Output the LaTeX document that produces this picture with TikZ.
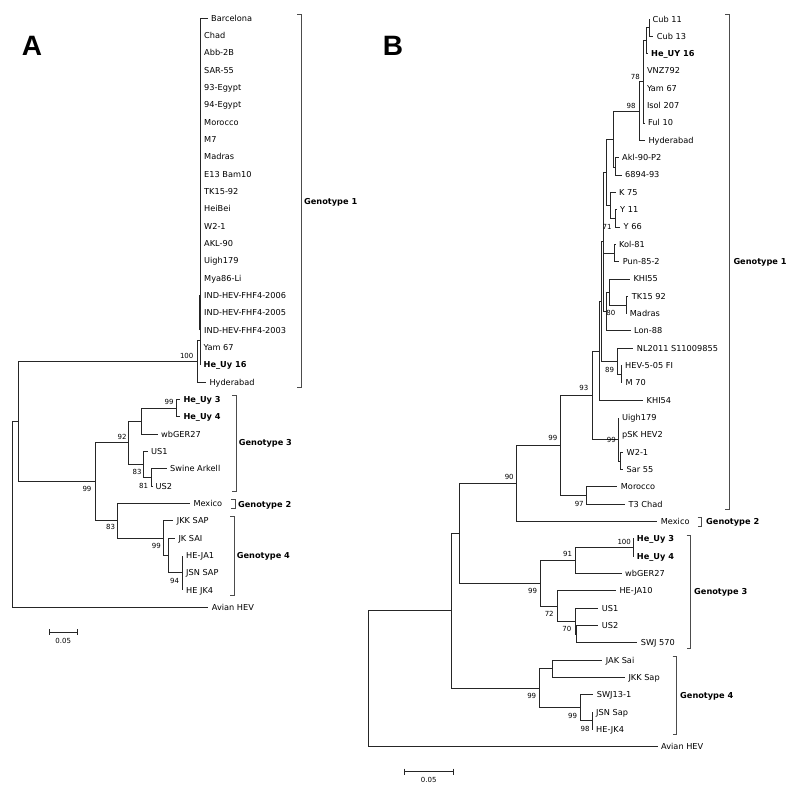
\documentclass[tikz,border=0pt]{standalone}
\usepackage{fontspec}
\setmainfont{DejaVu Sans}
\newfontfamily\panelfont{Liberation Sans}
\newcommand{\rowa}[1]{18+17.34*#1}
\newcommand{\rowb}[1]{19+17.33*#1}
\begin{document}
\begin{tikzpicture}[x=1pt, y=-1pt,
  branch/.style={draw=black!85, line width=0.9pt},
  tip/.style={anchor=west, inner xsep=3.5pt, inner ysep=0pt, text height=6pt, text depth=0pt, font=\fontsize{8.2}{9}\selectfont, text=black},
  ours/.style={tip, font=\fontsize{8.2}{9}\selectfont\bfseries},
  boot/.style={inner sep=0pt, text height=5.1pt, text depth=0pt, font=\fontsize{7}{8}\selectfont, text=black},
  clade/.style={draw=black!70, line width=0.9pt},
  cladename/.style={anchor=west, inner sep=0pt, text height=6pt, text depth=0pt, font=\fontsize{8.2}{9}\selectfont\bfseries, text=black},
  panel/.style={anchor=base, inner sep=0pt, font=\panelfont\fontsize{28}{30}\selectfont\bfseries}]

\useasboundingbox (0,0) rectangle (800,795);

% ---------------- panel A ----------------
\node[panel] (pA) at (32,55) {A};

\coordinate (a1) at (200,340);
\coordinate (a100) at (197,361.5);
\coordinate (a99h) at (176,408.2);
\coordinate (aW) at (141.7,421.2);
\coordinate (a81) at (151.7,477.5);
\coordinate (a83u) at (143.7,464.5);
\coordinate (a92) at (128.3,442.9);
\coordinate (a94) at (182.5,572.9);
\coordinate (aJK) at (168.3,555.5);
\coordinate (a99g) at (163.3,538.2);
\coordinate (a83) at (117,520.9);
\coordinate (a99) at (95,481.9);
\coordinate (aI) at (18.3,421.7);
\coordinate (aR) at (12.7,514.6);

\node[tip] (aBar) at (207.5,{\rowa{0}}) {Barcelona};
\draw[branch] (a1) |- (aBar.west);
\foreach \tname [count=\i] in {Chad, Abb-2B, SAR-55, 93-Egypt, 94-Egypt, Morocco, M7, Madras, E13 Bam10, TK15-92, HeiBei, W2-1, AKL-90, Uigh179, Mya86-Li, IND-HEV-FHF4-2006, IND-HEV-FHF4-2005, IND-HEV-FHF4-2003}{
  \node[tip] (ga\i) at (200.5,{\rowa{\i}}) {\tname};
  \draw[branch] (a1) |- (ga\i.west);
}
\node[tip] (aYam) at (200,{\rowa{19}}) {Yam 67};
\node[ours] (aUy16) at (200,{\rowa{20}}) {He\_Uy 16};
\node[tip] (aHyd) at (205.8,{\rowa{21}}) {Hyderabad};
\node[ours] (aUy3) at (179.8,{\rowa{22}}) {He\_Uy 3};
\node[ours] (aUy4) at (179.8,{\rowa{23}}) {He\_Uy 4};
\node[tip] (aGER) at (157.5,{\rowa{24}}) {wbGER27};
\node[tip] (aUS1) at (147.5,{\rowa{25}}) {US1};
\node[tip] (aArk) at (166.5,{\rowa{26}}) {Swine Arkell};
\node[tip] (aUS2) at (152,{\rowa{27}}) {US2};
\node[tip] (aMex) at (189.8,{\rowa{28}}) {Mexico};
\node[tip] (aJKK) at (173.2,{\rowa{29}}) {JKK SAP};
\node[tip] (aJKS) at (174.8,{\rowa{30}}) {JK SAI};
\node[tip] (aJA1) at (182.5,{\rowa{31}}) {HE-JA1};
\node[tip] (aJSN) at (182.5,{\rowa{32}}) {JSN SAP};
\node[tip] (aJK4) at (182.5,{\rowa{33}}) {HE JK4};
\node[tip] (aAvi) at (208.2,{\rowa{34}}) {Avian HEV};

\foreach \p/\c in {a1/aYam.west, a1/aUy16.west, a100/a1, a100/aHyd.west,
    a99h/aUy3.west, a99h/aUy4.west, aW/a99h, aW/aGER.west,
    a81/aArk.west, a81/aUS2.west, a83u/aUS1.west, a83u/a81, a92/aW, a92/a83u,
    a94/aJA1.west, a94/aJSN.west, a94/aJK4.west, aJK/aJKS.west, aJK/a94,
    a99g/aJKK.west, a99g/aJK, a83/aMex.west, a83/a99g, a99/a92, a99/a83,
    aI/a100, aI/a99, aR/aI, aR/aAvi.west}
  \draw[branch] (\p) |- (\c);
% the stacked short branches of genotype 1
\draw[branch, line width=1.6pt] (a1) ++(0,-10) -- ++(0,-35);

% bootstrap values
\foreach \bx/\by/\bv [count=\k] in {186.7/356/100, 169/402.3/99, 122/436.7/92, 137/472.3/83, 143.5/486/81, 87/489.3/99, 110.5/526.7/83, 156.3/546/99, 174.5/580.7/94}
  \node[boot] (bsA\k) at (\bx,\by) {\bv};

% genotype brackets
\foreach \bx/\bt/\bb in {301/14/387, 236/395.7/491, 235.3/499/508.7, 234.3/516.7/595}
  \draw[clade] ({\bx-4},\bt) -- (\bx,\bt) -- (\bx,\bb) -- ({\bx-4},\bb);
\node[cladename] (gA1) at (304,201) {Genotype 1};
\node[cladename] (gA3) at (238.7,442.7) {Genotype 3};
\node[cladename] (gA2) at (238,504) {Genotype 2};
\node[cladename] (gA4) at (236.7,555.7) {Genotype 4};

% scale bar
\draw[branch] (49,629.3) -- (49,635.3) (49,632.3) -- (77.3,632.3) (77.3,629.3) -- (77.3,635.3);
\node[boot, anchor=north] (sbA) at (63.2,638) {0.05};

% ---------------- panel B ----------------
\node[panel] (pB) at (393,55) {B};

\coordinate (bc1) at (649,27.7);
\coordinate (bc2) at (646.5,40.7);
\coordinate (b78) at (643.3,81.9);
\coordinate (b98) at (639.3,111.1);
\coordinate (bAkl) at (615.5,167);
\coordinate (bA) at (613.3,139.1);
\coordinate (bY) at (615,218.3);
\coordinate (b71) at (610,205.3);
\coordinate (bK) at (606.7,172.2);
\coordinate (bKP) at (614,253);
\coordinate (bTM) at (626,305);
\coordinate (b80) at (609.3,292);
\coordinate (bLo) at (606.7,311.5);
\coordinate (bM) at (603.3,241.9);
\coordinate (bHM) at (621,374.3);
\coordinate (b89) at (617.3,361.3);
\coordinate (bU) at (601.3,301.6);
\coordinate (bN) at (599.3,351);
\coordinate (bWS) at (620,461);
\coordinate (b99u) at (618.5,439);
\coordinate (b93) at (592.7,395);
\coordinate (b97) at (586.7,495.6);
\coordinate (b99m) at (560.7,445.3);
\coordinate (b90) at (516.7,483.4);
\coordinate (b100) at (633,547.6);
\coordinate (b91) at (575.3,560.6);
\coordinate (bS2) at (576.7,634.3);
\coordinate (b70) at (575,621.2);
\coordinate (b72) at (557.3,606.1);
\coordinate (b99c) at (540,583.3);
\coordinate (bJ) at (552,668.9);
\coordinate (b98g) at (592.5,720.9);
\coordinate (b99s) at (580.7,707.9);
\coordinate (b99d) at (539.3,688.4);
\coordinate (bI) at (459.3,533.4);
\coordinate (bR) at (451,610.9);
\coordinate (bRt) at (368.3,678.9);

\foreach \bx/\bi/\bn in {649/0/Cub 11, 653.2/1/Cub 13, 643.3/3/VNZ792, 643.3/4/Yam 67,
    643.3/5/Isol 207, 644.5/6/Ful 10, 644.8/7/Hyderabad, 618.5/8/Akl-90-P2,
    621.5/9/6894-93, 615.5/10/K 75, 616.5/11/Y 11, 620/12/Y 66, 615.5/13/Kol-81,
    619.2/14/Pun-85-2, 629.8/15/KHI55, 628.2/16/TK15 92, 626.2/17/Madras,
    630.5/18/Lon-88, 633.2/19/NL2011 S11009855, 621.5/20/HEV-5-05 FI, 622/21/M 70,
    643/22/KHI54, 618.5/23/Uigh179, 618.5/24/pSK HEV2, 623/25/W2-1, 623/26/Sar 55,
    617.2/27/Morocco, 624.8/28/T3 Chad, 657.2/29/Mexico, 621.5/32/wbGER27,
    615.8/33/HE-JA10, 598.2/34/US1, 598.2/35/US2, 637.2/36/SWJ 570,
    602.2/37/JAK Sai, 624.8/38/JKK Sap, 593.2/39/SWJ13-1, 592.5/40/JSN Sap,
    592.5/41/HE-JK4, 657.5/42/Avian HEV}
  \node[tip] (tb\bi) at (\bx,{\rowb{\bi}}) {\bn};
\node[ours] (tb2) at (647.5,{\rowb{2}}) {He\_UY 16};
\node[ours] (tb30) at (633.2,{\rowb{30}}) {He\_Uy 3};
\node[ours] (tb31) at (633.2,{\rowb{31}}) {He\_Uy 4};

\foreach \p/\c in {bc1/tb0.west, bc1/tb1.west, bc2/bc1, bc2/tb2.west, b78/bc2,
    b78/tb3.west, b78/tb4.west, b78/tb5.west, b78/tb6.west, b98/b78, b98/tb7.west,
    bAkl/tb8.west, bAkl/tb9.west, bA/b98, bA/bAkl, bY/tb11.west, bY/tb12.west,
    b71/tb10.west, b71/bY, bK/bA, bK/b71, bKP/tb13.west, bKP/tb14.west,
    bTM/tb16.west, bTM/tb17.west, b80/tb15.west, b80/bTM, bLo/b80, bLo/tb18.west,
    bM/bK, bM/bKP, bM/bLo, bHM/tb20.west, bHM/tb21.west, b89/tb19.west, b89/bHM,
    bU/bM, bU/b89, bN/bU, bN/tb22.west, bWS/tb25.west, bWS/tb26.west,
    b99u/tb23.west, b99u/tb24.west, b99u/bWS, b93/bN, b93/b99u,
    b97/tb27.west, b97/tb28.west, b99m/b93, b99m/b97, b90/b99m, b90/tb29.west,
    b100/tb30.west, b100/tb31.west, b91/b100, b91/tb32.west,
    bS2/tb35.west, bS2/tb36.west, b70/tb34.west, b70/bS2, b72/tb33.west, b72/b70,
    b99c/b91, b99c/b72, bJ/tb37.west, bJ/tb38.west, b98g/tb40.west, b98g/tb41.west,
    b99s/tb39.west, b99s/b98g, b99d/bJ, b99d/b99s, bI/b90, bI/b99c,
    bR/bI, bR/b99d, bRt/bR, bRt/tb42.west}
  \draw[branch] (\p) |- (\c);

% bootstrap values
\foreach \bx/\by/\bv [count=\k] in {635.3/76.7/78, 631/106/98, 607/226.7/71, 610.8/313.3/80,
    609.5/370/89, 583.8/387.7/93, 611.3/440/99, 552.8/438.3/99, 509.2/476.7/90,
    579.2/504/97, 624.2/541.7/100, 567.5/554.3/91, 532.5/591/99, 549.2/614/72,
    566.8/629/70, 531.7/695.7/99, 572.5/715.7/99, 585/729.3/98}
  \node[boot] (bsB\k) at (\bx,\by) {\bv};

% genotype brackets
\foreach \bx/\bt/\bb in {729.3/14.3/509.3, 701.7/517.3/526.7, 690.7/535/648.3, 676.7/656.7/734}
  \draw[clade] ({\bx-4},\bt) -- (\bx,\bt) -- (\bx,\bb) -- ({\bx-4},\bb);
\node[cladename] (gB1) at (733.3,261.7) {Genotype 1};
\node[cladename] (gB2) at (706,521.7) {Genotype 2};
\node[cladename] (gB3) at (694,591) {Genotype 3};
\node[cladename] (gB4) at (680,695) {Genotype 4};

% scale bar
\draw[branch] (404,768.7) -- (404,774.7) (404,771.7) -- (453.3,771.7) (453.3,768.7) -- (453.3,774.7);
\node[boot, anchor=north] (sbB) at (428.7,777.5) {0.05};
\end{tikzpicture}
\end{document}
